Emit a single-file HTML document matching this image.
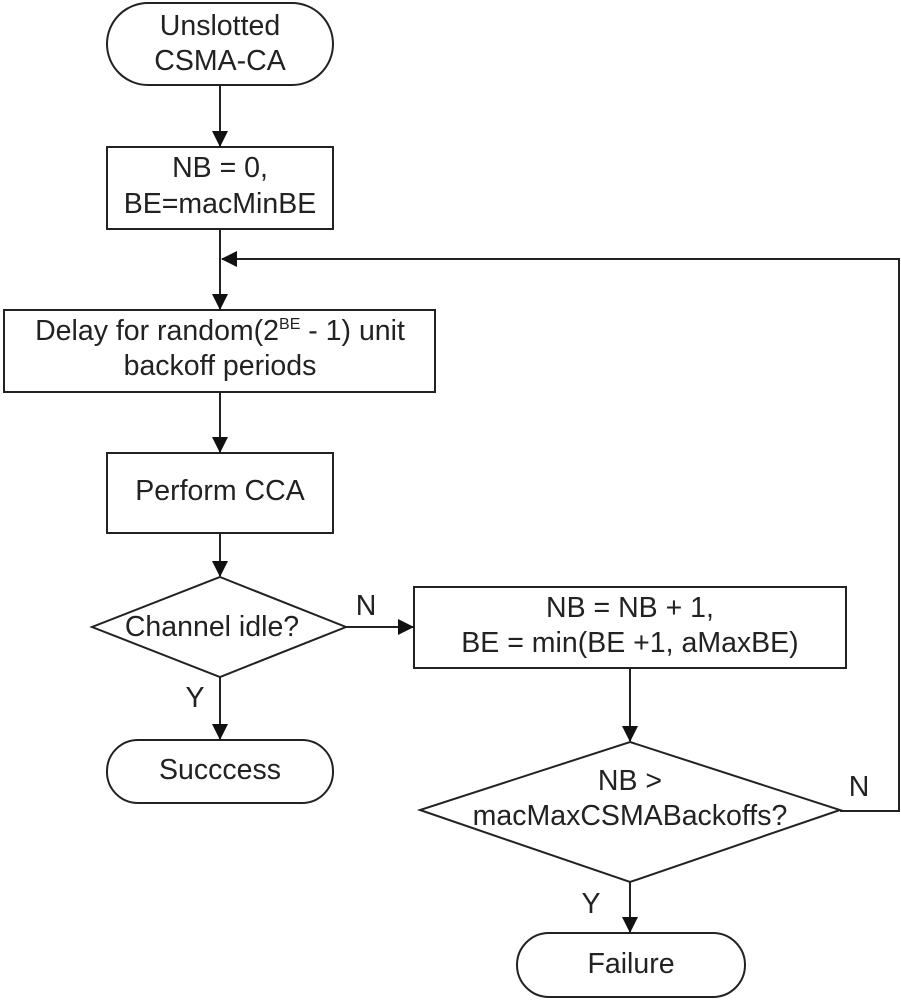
<!DOCTYPE html>
<html><head><style>body{margin:0;background:#fff}</style></head><body>
<svg width="901" height="1000" xmlns="http://www.w3.org/2000/svg" font-family="Liberation Sans, Arial, sans-serif" font-size="28.5" fill="#222">
<defs><marker id="b" markerWidth="16" markerHeight="16" refX="15" refY="8" orient="auto" markerUnits="userSpaceOnUse"><path d="M0,0 L16,8 L0,16 z" fill="#111"/></marker></defs>
<g stroke="#222" stroke-width="2" fill="none">
<rect x="107" y="3" width="226" height="82" rx="41"/>
<rect x="107" y="147" width="226" height="82"/>
<rect x="4" y="310" width="431" height="82"/>
<rect x="107" y="453" width="226" height="80"/>
<polygon points="220,577 346,627 220,677 92,627"/>
<rect x="107" y="740" width="226" height="63" rx="31"/>
<rect x="414" y="587" width="432" height="81"/>
<polygon points="630,742 840,810 630,882 420,810"/>
<rect x="517" y="933" width="228" height="64" rx="32"/>
<g marker-end="url(#b)">
<line x1="220" y1="85" x2="220" y2="146"/>
<line x1="220" y1="229" x2="220" y2="309"/>
<line x1="220" y1="392" x2="220" y2="452"/>
<line x1="220" y1="533" x2="220" y2="576"/>
<line x1="220" y1="677" x2="220" y2="739"/>
<line x1="346" y1="627" x2="413" y2="627"/>
<line x1="630" y1="668" x2="630" y2="741"/>
<line x1="630" y1="882" x2="630" y2="932"/>
<polyline points="840,811 899,811 899,259 222,259"/>
</g></g>
<g text-anchor="middle" stroke="none">
<text x="220" y="35">Unslotted</text><text x="220" y="70">CSMA-CA</text>
<text x="220" y="177">NB = 0,</text><text x="220" y="213">BE=macMinBE</text>
<text x="220" y="340">Delay for random(2<tspan font-size="16" dy="-11">BE</tspan><tspan dy="11"> - 1) unit</tspan></text>
<text x="220" y="375">backoff periods</text>
<text x="220" y="500">Perform CCA</text>
<text x="212" y="636">Channel idle?</text>
<text x="220" y="779">Succcess</text>
<text x="630" y="617">NB = NB + 1,</text><text x="630" y="652">BE = min(BE +1, aMaxBE)</text>
<text x="630" y="790">NB &gt;</text><text x="630" y="825">macMaxCSMABackoffs?</text>
<text x="631" y="973">Failure</text>
<text x="366" y="615">N</text><text x="195" y="707">Y</text>
<text x="859" y="796">N</text><text x="591" y="913">Y</text>
</g>
</svg>
</body></html>
